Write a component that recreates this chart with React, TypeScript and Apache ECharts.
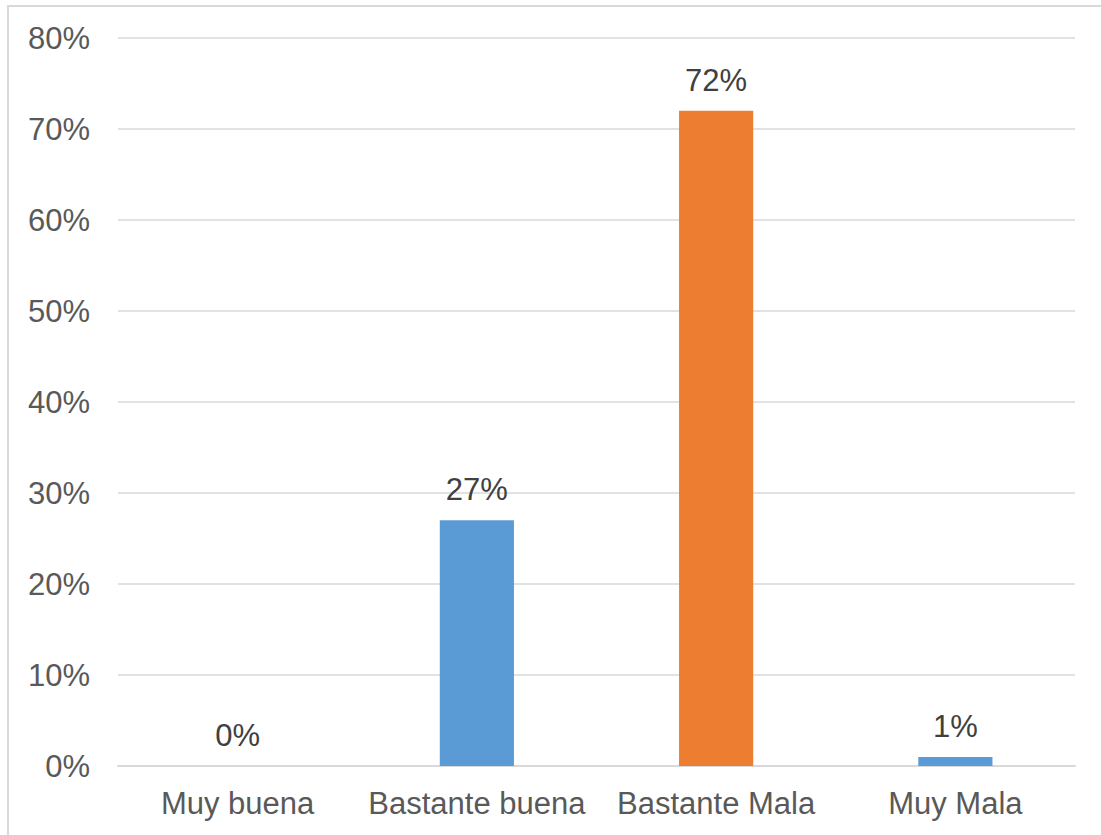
import React, { useEffect, useRef } from "react";
import * as echarts from "echarts";

// Survey answers and their share of responses (%)
const categories = ["Muy buena", "Bastante buena", "Bastante Mala", "Muy Mala"];
const shares = [0, 27, 72, 1];
const barColors = ["#5B9BD5", "#5B9BD5", "#ED7D31", "#5B9BD5"];
const yTicks = { min: 0, max: 80, interval: 10 };

export default function App() {
  const ref = useRef<HTMLDivElement>(null);

  useEffect(() => {
    if (!ref.current) return;
    const chart = echarts.init(ref.current, null, { renderer: "svg" });
    const font = "'Liberation Sans', Arial, sans-serif";
    chart.setOption({
      animation: false,
      backgroundColor: "#ffffff",
      graphic: [
        {
          type: "rect",
          shape: { x: 8, y: 6, width: 1400, height: 1200 },
          style: { fill: "none", stroke: "#d9d9d9", lineWidth: 2 },
          silent: true,
        },
      ],
      grid: { left: 118, right: 26, top: 38, bottom: 69, containLabel: false },
      xAxis: {
        type: "category",
        data: categories,
        axisLine: { show: true, lineStyle: { color: "#d9d9d9", width: 2 } },
        axisTick: { show: false },
        axisLabel: {
          color: "#595959",
          fontSize: 31,
          fontFamily: font,
          margin: 22,
          interval: 0,
        },
      },
      yAxis: {
        type: "value",
        min: yTicks.min,
        max: yTicks.max,
        interval: yTicks.interval,
        axisLine: { show: false },
        axisTick: { show: false },
        splitLine: { lineStyle: { color: "#d9d9d9", width: 1.5 } },
        axisLabel: {
          color: "#595959",
          fontSize: 31,
          fontFamily: font,
          margin: 28,
          formatter: "{value}%",
        },
      },
      series: [
        {
          type: "bar",
          barWidth: "31%",
          data: shares.map((v, i) => ({ value: v, itemStyle: { color: barColors[i] } })),
          label: {
            show: true,
            position: "top",
            distance: 15,
            color: "#404040",
            fontSize: 31,
            fontFamily: font,
            formatter: "{c}%",
          },
        },
      ],
    });
    return () => chart.dispose();
  }, []);

  return (
    <div
      ref={ref}
      style={{ position: "absolute", left: 0, top: 0, width: 1101, height: 835 }}
    />
  );
}
